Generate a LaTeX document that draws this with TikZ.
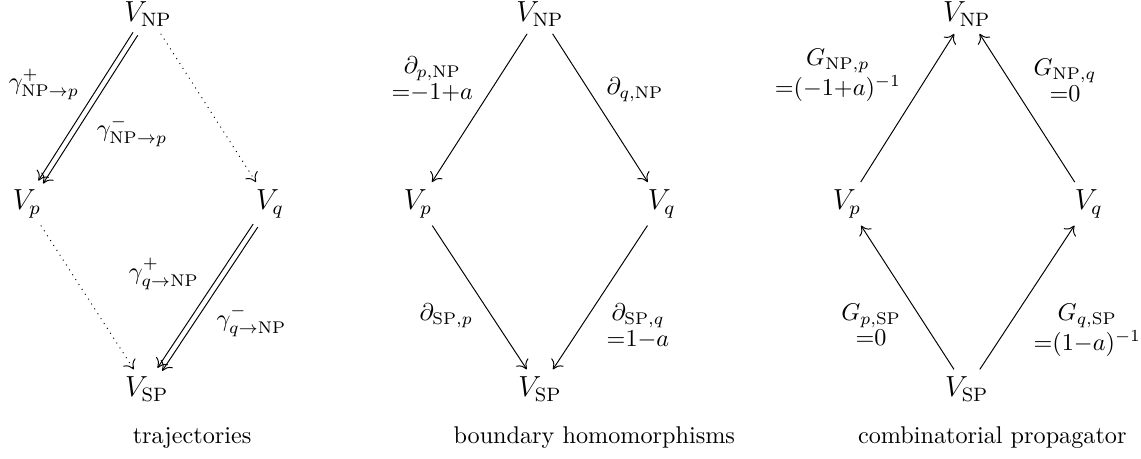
\documentclass[tikz,border=0pt]{standalone}
\usepackage{amsmath}
\usetikzlibrary{arrows.meta}

\begin{document}
\begin{tikzpicture}[
  x=1mm,y=1mm,
  vert/.style={font=\large,anchor=base,inner sep=3pt},
  lab/.style={font=\Large,inner sep=2.5pt},
  map/.style={-{Computer Modern Rightarrow[length=3.6pt,width=6pt]},line width=.4pt},
  traj/.style={map,dotted},
  shl/.style={transform canvas={shift={(-.97pt,.62pt)}}},
  shr/.style={transform canvas={shift={(.97pt,-.62pt)}}},
  captext/.style={anchor=base}
]
\useasboundingbox (0,0) rectangle (165.7,66.65);

% Trajectories.
\node[vert] (tNP) at (21.5,63.5) {$V_{\mathrm{NP}}$};
\node[vert] (tp)  at (3.9,36.2)  {$V_p$};
\node[vert] (tq)  at (39.2,36.2) {$V_q$};
\node[vert] (tSP) at (21.3,9.0)  {$V_{\mathrm{SP}}$};

\draw[map,shl] (tNP) -- node[lab,anchor=south east]
  {$\scriptstyle\gamma^+_{\mathrm{NP}\to p}$} (tp);
\draw[map,shr] (tNP) -- node[lab,anchor=north west]
  {$\scriptstyle\gamma^-_{\mathrm{NP}\to p}$} (tp);
\draw[map,shl] (tq) -- node[lab,anchor=south east]
  {$\scriptstyle\gamma^+_{q\to\mathrm{NP}}$} (tSP);
\draw[map,shr] (tq) -- node[lab,anchor=north west]
  {$\scriptstyle\gamma^-_{q\to\mathrm{NP}}$} (tSP);
\draw[traj] (tNP) -- (tq);
\draw[traj] (tp) -- (tSP);

\node[captext] (ctraj) at (27.9,2.3) {trajectories};

% Boundary homomorphisms.
\node[vert] (bNP) at (78.4,63.5) {$V_{\mathrm{NP}}$};
\node[vert] (bp)  at (60.7,36.2) {$V_p$};
\node[vert] (bq)  at (96.1,36.2) {$V_q$};
\node[vert] (bSP) at (78.4,9.0)  {$V_{\mathrm{SP}}$};

\draw[map] (bNP) -- node[lab,anchor=south east]
  {$\substack{\partial_{p,\mathrm{NP}}\\=-1+a}$} (bp);
\draw[map] (bNP) -- node[lab,anchor=south west]
  {$\scriptstyle\partial_{q,\mathrm{NP}}$} (bq);
\draw[map] (bp) -- node[lab,anchor=north east]
  {$\scriptstyle\partial_{\mathrm{SP},p}$} (bSP);
\draw[map] (bq) -- node[lab,anchor=north west]
  {$\substack{\partial_{\mathrm{SP},q}\\=1-a}$} (bSP);

\node[captext] (cbound) at (86.3,2.3) {boundary homomorphisms};

% Combinatorial propagator.
\node[vert] (gNP) at (140.4,63.5) {$V_{\mathrm{NP}}$};
\node[vert] (gp)  at (123.0,36.2) {$V_p$};
\node[vert] (gq)  at (158.1,36.2) {$V_q$};
\node[vert] (gSP) at (140.4,9.0)  {$V_{\mathrm{SP}}$};

\draw[map] (gp) -- node[lab,anchor=south east]
  {$\substack{G_{\mathrm{NP},p}\\=(-1+a)^{-1}}$} (gNP);
\draw[map] (gq) -- node[lab,anchor=south west]
  {$\substack{G_{\mathrm{NP},q}\\=0}$} (gNP);
\draw[map] (gSP) -- node[lab,anchor=north east]
  {$\substack{G_{p,\mathrm{SP}}\\=0}$} (gp);
\draw[map] (gSP) -- node[lab,anchor=north west]
  {$\substack{G_{q,\mathrm{SP}}\\=(1-a)^{-1}}$} (gq);

\node[captext] (cprop) at (144.1,2.3) {combinatorial propagator};

\end{tikzpicture}
\end{document}
